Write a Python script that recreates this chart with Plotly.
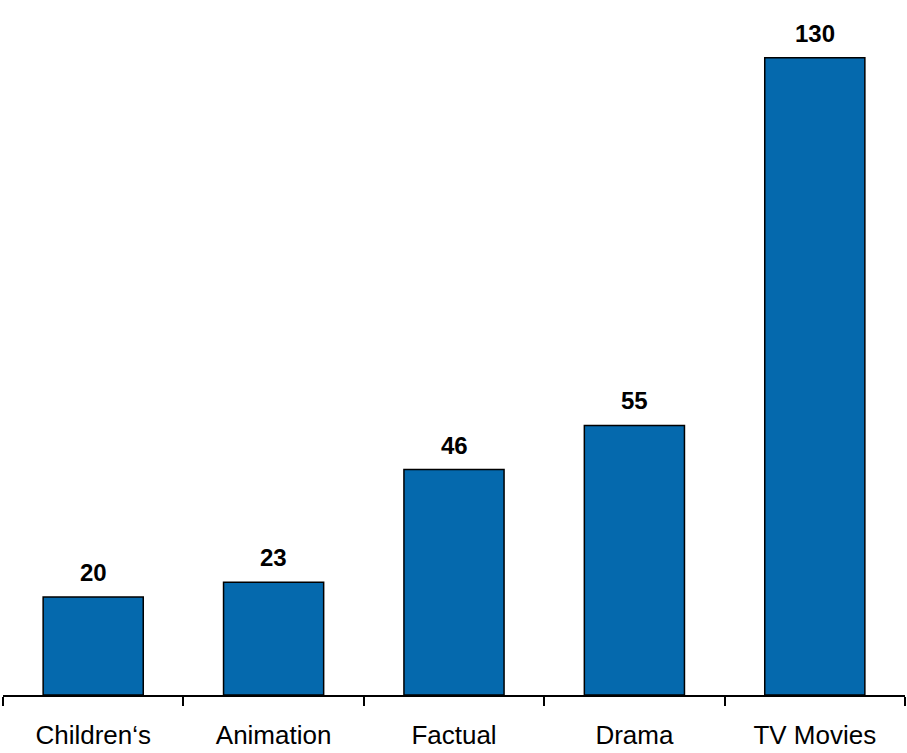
import plotly.graph_objects as go

# genre counts
genres = ["Children‘s", "Animation", "Factual", "Drama", "TV Movies"]
counts = [20, 23, 46, 55, 130]

fig = go.Figure()
fig.add_trace(go.Bar(
    x=genres, y=counts,
    marker=dict(color="#0569AD", line=dict(color="black", width=1.5)),
    width=0.555,
))

# value labels above bars
for g, c in zip(genres, counts):
    fig.add_annotation(x=g, y=c, text=f"<b>{c}</b>", showarrow=False,
                       yanchor="bottom", yshift=9,
                       font=dict(size=24, color="black"))

fig.update_layout(
    width=907, height=753,
    margin=dict(l=3, r=2, t=0, b=58),
    plot_bgcolor="white", paper_bgcolor="white",
    font=dict(family="Liberation Sans, Arial", size=24, color="black"),
    showlegend=False,
    xaxis=dict(showline=True, linecolor="black", linewidth=1.5,
               ticks="outside", tickson="boundaries", ticklen=9,
               tickcolor="black", tickwidth=1.5,
               tickfont=dict(size=26), ticklabelstandoff=16,
               automargin=False),
    yaxis=dict(visible=False, range=[0, 141.8]),
)

# drop the default page margin so the figure sits at the corner
fig.write_html("out.html", config={"displayModeBar": False},
               post_script="document.body.style.margin='0';")
